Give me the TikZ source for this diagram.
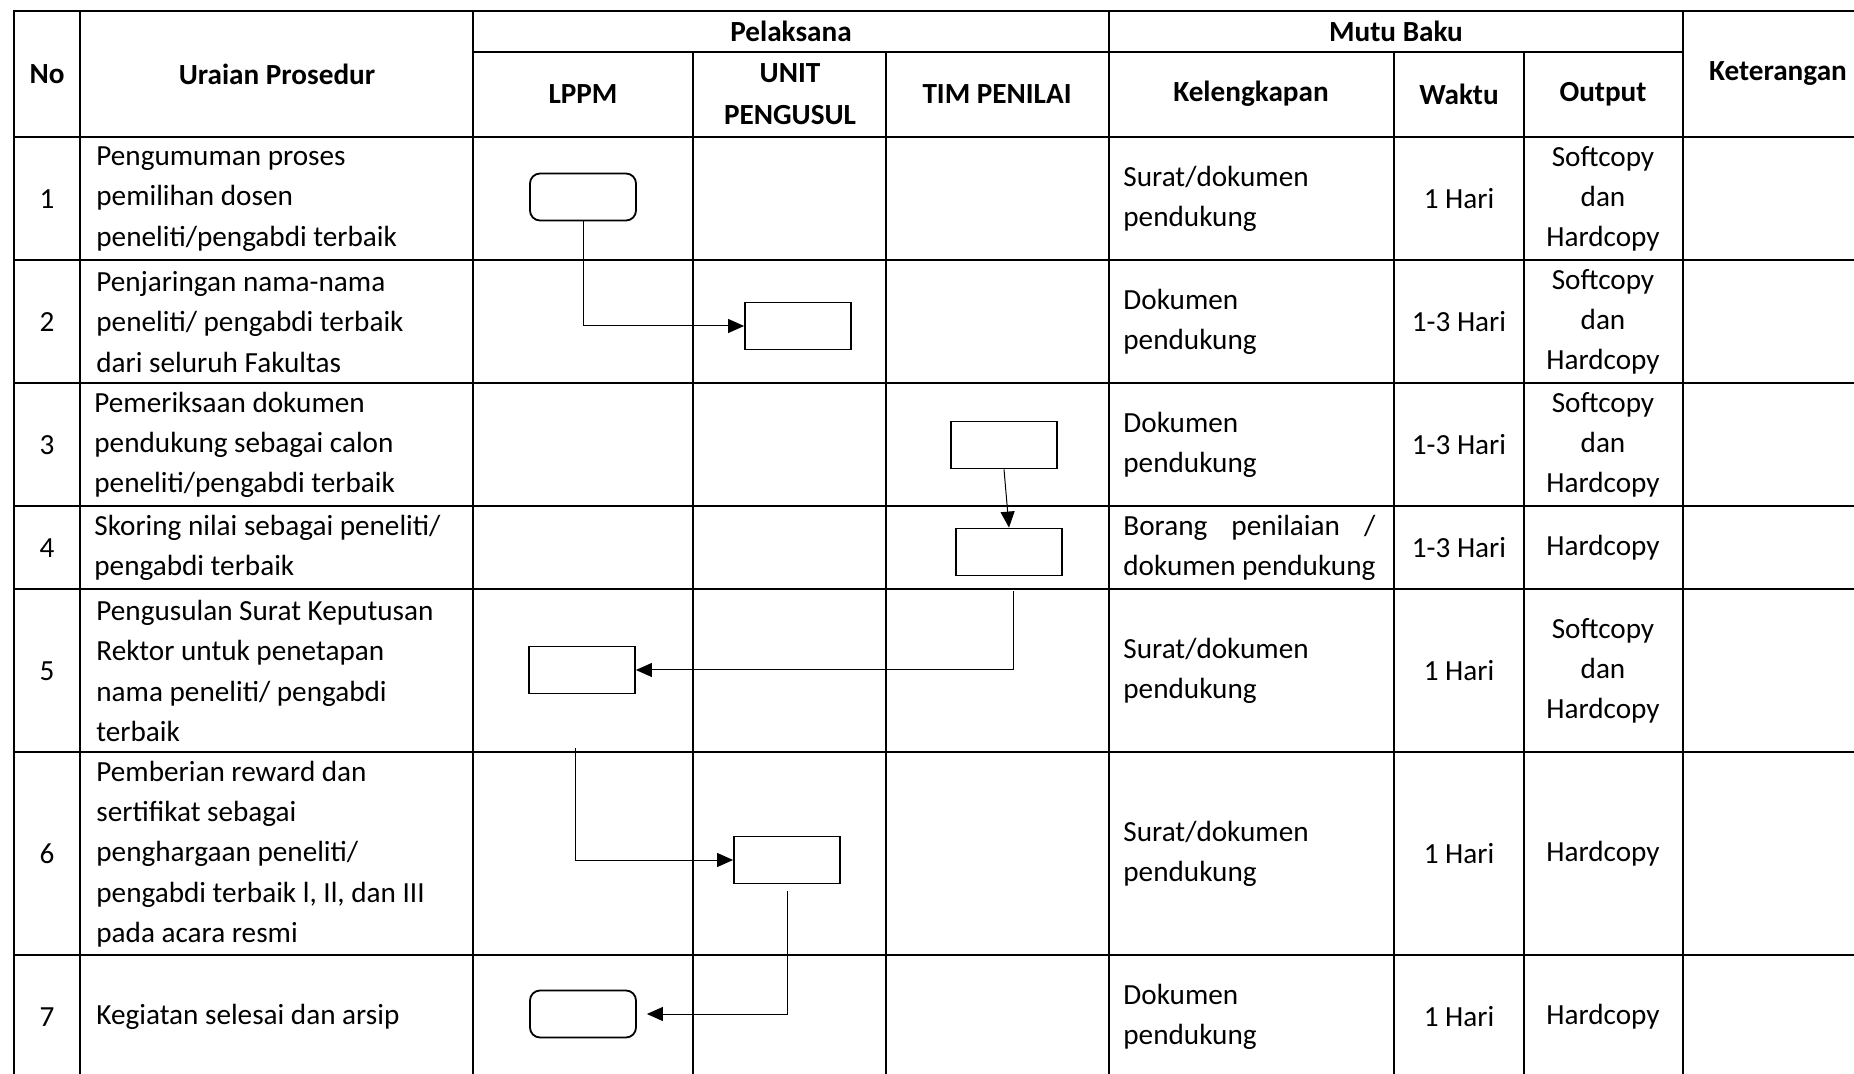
\documentclass[tikz,border=0pt]{standalone}
\usepackage{fontspec}
\setmainfont{Carlito}
\usepackage{calc}
\usetikzlibrary{arrows.meta,positioning}

\begin{document}
\begin{tikzpicture}[x=0.5pt, y=-0.5pt, font=\fontsize{14.6pt}{20.15pt}\selectfont]
    \tikzstyle{grid}=[line width=0.9pt, line cap=rect]
    \tikzstyle{cell}=[align=center, inner sep=0pt]
    \tikzstyle{prose}=[cell, align=left, anchor=west]
    \tikzstyle{head}=[cell, font=\fontsize{14.6pt}{21pt}\selectfont\bfseries]
    \tikzstyle{task}=[draw, line width=0.9pt, minimum width=53pt, minimum height=23.5pt, inner sep=0pt]
    \tikzstyle{term}=[task, rounded corners=5pt]
    \tikzstyle{flow}=[line width=0.5pt, -{Triangle[length=8pt,width=7pt]}]
    \useasboundingbox (0,0) rectangle (1854,1074);
    % table
    \foreach \y in {11,137,260,383,506,589,752,955}
        \draw [grid] (14,\y) -- (1854,\y);
    \draw [grid] (473,52) -- (1683,52);
    \foreach \x in {14,80,473,1109,1683}
        \draw [grid] (\x,11) -- (\x,1074);
    \foreach \x in {693,886,1394,1524}
        \draw [grid] (\x,52) -- (\x,1074);
    % header
    \node (no) [head] at (47,74) {No};
    \node (uraian) [head] at (277,74) {Uraian Prosedur};
    \node (pelaksana) [head] at (791,31) {Pelaksana};
    \node (mutu) [head] at (1396,31) {Mutu Baku};
    \node (lppm) [head] at (583,94) {LPPM};
    \node (unit) [head] at (790,94) {UNIT\\PENGUSUL};
    \node (tim) [head] at (997,94) {TIM PENILAI};
    \node (kelengkapan) [head] at (1251,94) {Kelengkapan};
    \node (waktu) [head] at (1459,94) {Waktu};
    \node (output) [head] at (1603,94) {Output};
    \node (keterangan) [head] at (1778,74) {Keterangan};
    % nomor
    \node (no1) [cell] at (47,199) {1};
    \node (no2) [cell] at (47,322) {2};
    \node (no3) [cell] at (47,445) {3};
    \node (no4) [cell] at (47,548) {4};
    \node (no5) [cell] at (47,671) {5};
    \node (no6) [cell] at (47,854) {6};
    \node (no7) [cell] at (47,1017) {7};
    % uraian prosedur
    \node (ur1) [prose] at (96,199) {Pengumuman proses\\pemilihan dosen\\peneliti/pengabdi terbaik};
    \node (ur2) [prose] at (96,322) {Penjaringan nama-nama\\peneliti/ pengabdi terbaik\\dari seluruh Fakultas};
    \node (ur3) [prose] at (94,445) {Pemeriksaan dokumen\\pendukung sebagai calon\\peneliti/pengabdi terbaik};
    \node (ur4) [prose] at (94,548) {Skoring nilai sebagai peneliti/\\pengabdi terbaik};
    \node (ur5) [prose] at (96,671) {Pengusulan Surat Keputusan\\Rektor untuk penetapan\\nama peneliti/ pengabdi\\terbaik};
    \node (ur6) [prose] at (96,854) {Pemberian reward dan\\sertifikat sebagai\\penghargaan peneliti/\\pengabdi terbaik l, Il, dan III\\pada acara resmi};
    \node (ur7) [prose] at (96,1017) {Kegiatan selesai dan arsip};
    % kelengkapan
    \node (kel1) [prose] at (1123,199) {Surat/dokumen\\pendukung};
    \node (kel2) [prose] at (1123,322) {Dokumen\\pendukung};
    \node (kel3) [prose] at (1123,445) {Dokumen\\pendukung};
    \node (kel4) [prose] at (1123,548) {\makebox[\widthof{dokumen pendukung}][s]{Borang penilaian /}\\dokumen pendukung};
    \node (kel5) [prose] at (1123,671) {Surat/dokumen\\pendukung};
    \node (kel6) [prose] at (1123,854) {Surat/dokumen\\pendukung};
    \node (kel7) [prose] at (1123,1017) {Dokumen\\pendukung};
    % waktu
    \node (wk1) [cell] at (1459,199) {1 Hari};
    \node (wk2) [cell] at (1459,322) {1-3 Hari};
    \node (wk3) [cell] at (1459,445) {1-3 Hari};
    \node (wk4) [cell] at (1459,548) {1-3 Hari};
    \node (wk5) [cell] at (1459,671) {1 Hari};
    \node (wk6) [cell] at (1459,854) {1 Hari};
    \node (wk7) [cell] at (1459,1017) {1 Hari};
    % output
    \node (out1) [cell] at (1603,199) {Softcopy\\dan\\Hardcopy};
    \node (out2) [cell] at (1603,322) {Softcopy\\dan\\Hardcopy};
    \node (out3) [cell] at (1603,445) {Softcopy\\dan\\Hardcopy};
    \node (out4) [cell] at (1603,548) {Hardcopy};
    \node (out5) [cell] at (1603,671) {Softcopy\\dan\\Hardcopy};
    \node (out6) [cell] at (1603,854) {Hardcopy};
    \node (out7) [cell] at (1603,1017) {Hardcopy};
    % flowchart
    \node (mulai) [term] at (583,197) {};
    \node (jaring) [task] at (798,326) {};
    \node (periksa) [task] at (1004,445) {};
    \node (skor) [task] at (1009,552) {};
    \node (usul) [task] at (582,670) {};
    \node (reward) [task] at (787,860) {};
    \node (arsip) [term] at (583,1014) {};
    \draw [flow] (mulai.south) |- (jaring.west);
    \draw [flow] (periksa.south) -- (skor.north);
    \draw [flow] ([xshift=2pt,yshift=-7.5pt]skor.south) |- (usul.east);
    \draw [flow] ([xshift=-3.5pt,yshift=-27pt]usul.south) |- (reward.west);
    \draw [flow] ([yshift=-3.5pt]reward.south) |- ([xshift=5pt]arsip.east);
\end{tikzpicture}
\end{document}
